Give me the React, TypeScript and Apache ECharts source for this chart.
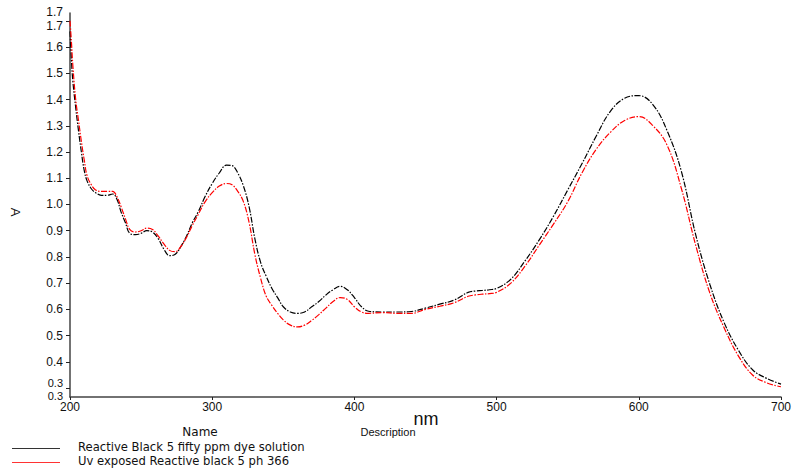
import React, { useEffect, useRef } from "react";
import * as echarts from "echarts";

const wavelengths = [
  200, 201, 202, 204, 206, 208, 210, 212, 215, 218, 222, 226, 230, 233, 236, 239, 242, 246, 250, 254,
  258, 262, 266, 270, 274, 278, 282, 286, 290, 295, 300, 305, 310, 314, 318, 322, 326, 330, 334, 338,
  342, 346, 350, 355, 360, 365, 370, 375, 380, 385, 390, 395, 400, 405, 410, 420, 430, 440, 450, 460,
  470, 480, 485, 490, 495, 500, 510, 520, 530, 540, 550, 560, 570, 580, 590, 600, 610, 620, 630, 640,
  650, 660, 670, 680, 690, 700,
];

const blackValues = [
  1.66, 1.55, 1.47, 1.37, 1.28, 1.2, 1.13, 1.09, 1.06, 1.045, 1.035, 1.035, 1.04, 1.02, 0.97, 0.93, 0.89, 0.885, 0.89, 0.9,
  0.895, 0.87, 0.83, 0.805, 0.81, 0.84, 0.88, 0.93, 0.97, 1.03, 1.08, 1.12, 1.15, 1.148, 1.12, 1.07, 0.99, 0.87, 0.78, 0.726,
  0.68, 0.645, 0.61, 0.59, 0.585, 0.59, 0.61, 0.63, 0.655, 0.675, 0.688, 0.675, 0.645, 0.61, 0.593, 0.59, 0.59, 0.592, 0.605, 0.62,
  0.635, 0.665, 0.67, 0.672, 0.675, 0.68, 0.715, 0.785, 0.865, 0.955, 1.055, 1.155, 1.26, 1.355, 1.405, 1.415, 1.38, 1.28, 1.125, 0.885,
  0.695, 0.55, 0.445, 0.37, 0.337, 0.315,
];

const redValues = [
  1.7, 1.62, 1.53, 1.4, 1.32, 1.24, 1.17, 1.11, 1.075, 1.055, 1.05, 1.05, 1.05, 1.03, 0.99, 0.945, 0.905, 0.895, 0.9, 0.91,
  0.905, 0.88, 0.85, 0.825, 0.82, 0.84, 0.875, 0.92, 0.96, 1.01, 1.045, 1.07, 1.08, 1.075, 1.05, 1.01, 0.93, 0.81, 0.72, 0.65,
  0.615, 0.585, 0.56, 0.54, 0.533, 0.54, 0.558, 0.58, 0.605, 0.63, 0.645, 0.638, 0.61, 0.59, 0.585, 0.588, 0.585, 0.585, 0.6, 0.612,
  0.625, 0.65, 0.655, 0.658, 0.66, 0.665, 0.7, 0.765, 0.845, 0.925, 1.01, 1.12, 1.21, 1.275, 1.32, 1.335, 1.3, 1.225, 1.06, 0.845,
  0.662, 0.53, 0.423, 0.35, 0.32, 0.305,
];

const seriesNames = [
  "Reactive Black 5 fifty ppm dye solution",
  "Uv exposed Reactive black 5 ph 366",
];

const Y_MIN = 0.266;
const Y_MAX = 1.73;

const FONT = "'Liberation Sans', Arial, sans-serif";
const WIDE_FONT = "'DejaVu Sans', 'Liberation Sans', sans-serif";

export default function App() {
  const ref = useRef<HTMLDivElement>(null);

  useEffect(() => {
    if (!ref.current) return;
    const chart = echarts.init(ref.current, null, { renderer: "svg" });
    const blackData = wavelengths.map((w, i) => [w, blackValues[i]]);
    const redData = wavelengths.map((w, i) => [w, redValues[i]]);
    const near = (a: number, b: number) => Math.abs(a - b) < 1e-6;

    const txt = { color: "#111", fontSize: 12, fontFamily: FONT, lineHeight: 11 };
    const small = { ...txt, fontSize: 11 };
    const labelBase = { ...txt, margin: 7 };

    chart.setOption({
      animation: false,
      backgroundColor: "#ffffff",
      textStyle: { fontFamily: FONT },
      grid: { left: 70, right: 11, top: 13, bottom: 71, containLabel: false },
      xAxis: {
        type: "value",
        min: 200,
        max: 700,
        interval: 100,
        axisLine: { show: true, lineStyle: { color: "#444", width: 1.5 } },
        axisTick: { show: true, length: 3, lineStyle: { color: "#222" } },
        axisLabel: { color: "#111", fontSize: 12, fontFamily: FONT, margin: 4 },
        splitLine: { show: false },
      },
      yAxis: [
        {
          type: "value",
          min: Y_MIN,
          max: Y_MAX,
          splitNumber: 14,
          position: "left",
          axisLine: { show: true, lineStyle: { color: "#444", width: 1.5 } },
          axisTick: { show: true, length: 4, lineStyle: { color: "#222" } },
          axisLabel: {
            ...labelBase,
            showMinLabel: false,
            showMaxLabel: false,
            formatter: (v: number) => {
              if (near(v, Y_MIN) || near(v, Y_MAX)) return "";
              const s = v.toFixed(1);
              if (near(v, 1.7)) return "{dn|" + s + "}";
              if (near(v, 0.3)) return "{up|" + s + "}";
              return s;
            },
            rich: {
              dn: { ...txt, padding: [11, 0, 0, 0] },
              up: { ...small, padding: [0, 0, 10, 0] },
            },
          },
          splitLine: { show: false },
        },
        {
          type: "value",
          min: Y_MIN,
          max: Y_MAX,
          splitNumber: 14,
          position: "left",
          offset: 0,
          axisLine: { show: false },
          axisTick: { show: false },
          axisLabel: {
            ...labelBase,
            showMinLabel: true,
            showMaxLabel: true,
            formatter: (v: number) => {
              if (near(v, Y_MIN)) return "{lo|" + v.toFixed(1) + "}";
              if (near(v, Y_MAX)) return "{hi|" + v.toFixed(1) + "}";
              return "";
            },
            rich: {
              hi: { ...txt, padding: [0, 0, 2, 0] },
              lo: { ...small, padding: [0, 0, 2, 0] },
            },
          },
          splitLine: { show: false },
        },
      ],
      series: [
        {
          name: seriesNames[0],
          type: "line",
          data: blackData,
          smooth: 0.4,
          showSymbol: false,
          lineStyle: { color: "#000000", width: 1.2, type: [6, 1.5, 1.5, 1.5] },
          z: 2,
        },
        {
          name: seriesNames[1],
          type: "line",
          data: redData,
          smooth: 0.4,
          showSymbol: false,
          lineStyle: { color: "#ff0000", width: 1.2, type: [6, 1.5, 1.5, 1.5] },
          z: 3,
        },
      ],
      graphic: [
        {
          type: "text",
          x: 15,
          y: 212,
          rotation: -Math.PI / 2,
          style: { text: "A", fontSize: 13, fontFamily: FONT, fill: "#111", align: "center", verticalAlign: "middle" },
        },
        {
          type: "text",
          x: 426,
          y: 419,
          style: { text: "nm", fontSize: 18, fontFamily: FONT, fill: "#111", align: "center", verticalAlign: "middle" },
        },
        {
          type: "text",
          x: 200,
          y: 432,
          style: { text: "Name", fontSize: 12, fontFamily: WIDE_FONT, fill: "#111", align: "center", verticalAlign: "middle" },
        },
        {
          type: "text",
          x: 388,
          y: 432,
          style: { text: "Description", fontSize: 11, fontFamily: FONT, fill: "#111", align: "center", verticalAlign: "middle" },
        },
        {
          type: "line",
          shape: { x1: 12, y1: 448.5, x2: 60, y2: 448.5 },
          style: { stroke: "#333", lineWidth: 1 },
        },
        {
          type: "text",
          x: 78,
          y: 447,
          style: { text: seriesNames[0], fontSize: 11.6, fontFamily: WIDE_FONT, fill: "#111", align: "left", verticalAlign: "middle" },
        },
        {
          type: "line",
          shape: { x1: 12, y1: 462.5, x2: 60, y2: 462.5 },
          style: { stroke: "#ff3333", lineWidth: 1 },
        },
        {
          type: "text",
          x: 78,
          y: 461,
          style: { text: seriesNames[1], fontSize: 11.6, fontFamily: WIDE_FONT, fill: "#111", align: "left", verticalAlign: "middle" },
        },
      ],
    });

    return () => chart.dispose();
  }, []);

  return (
    <div
      ref={ref}
      style={{ position: "fixed", left: 0, top: 0, width: 794, height: 468, background: "#fff" }}
    />
  );
}
